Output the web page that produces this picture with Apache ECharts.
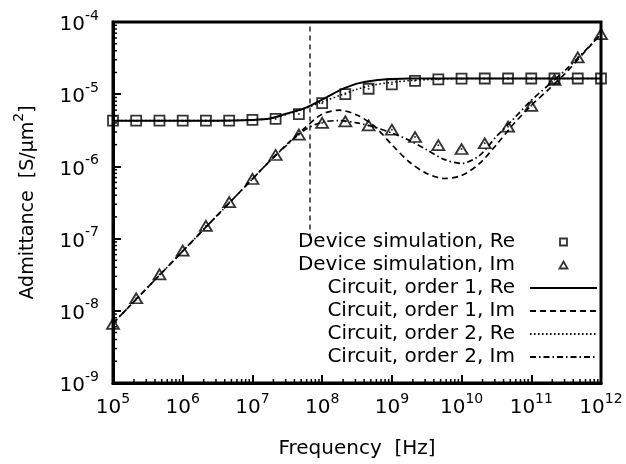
<!DOCTYPE html>
<html>
<head>
<meta charset="utf-8">
<script src="https://cdn.jsdelivr.net/npm/echarts@6/dist/echarts.min.js"></script>
<style>
  html, body { margin: 0; padding: 0; background: #fff; }
  #chart { width: 626px; height: 464px; }
</style>
</head>
<body>
<div id="chart"></div>
<script>
// device simulation points, 3 per decade
let simFreq = [1e5, 2.15e5, 4.64e5, 1e6, 2.15e6, 4.64e6, 1e7, 2.15e7, 4.64e7, 1e8, 2.15e8, 4.64e8,
  1e9, 2.15e9, 4.64e9, 1e10, 2.15e10, 4.64e10, 1e11, 2.15e11, 4.64e11, 1e12]
let simRe = [4.3e-6, 4.3e-6, 4.3e-6, 4.3e-6, 4.3e-6, 4.3e-6, 4.4e-6, 4.55e-6, 5.3e-6, 7.5e-6, 1.0e-5, 1.19e-5,
  1.37e-5, 1.53e-5, 1.6e-5, 1.64e-5, 1.65e-5, 1.65e-5, 1.65e-5, 1.65e-5, 1.65e-5, 1.65e-5]
let simIm = [6.6e-9, 1.49e-8, 3.2e-8, 6.8e-8, 1.5e-7, 3.2e-7, 6.7e-7, 1.44e-6, 2.75e-6, 4.0e-6, 4.2e-6, 3.7e-6,
  3.22e-6, 2.55e-6, 1.97e-6, 1.74e-6, 2.09e-6, 3.55e-6, 6.9e-6, 1.58e-5, 3.24e-5, 6.8e-5]

// equivalent circuit curves, 4 per decade in the transition region
let curveFreq = [1e5, 3.16e5, 1e6, 3.16e6, 1e7, 1.78e7, 3.16e7, 5.62e7, 1e8, 1.78e8, 3.16e8, 5.62e8,
  1e9, 1.78e9, 3.16e9, 5.62e9, 1e10, 1.78e10, 3.16e10, 5.62e10, 1e11, 1.78e11, 3.16e11, 5.62e11, 1e12]
let order1Re = [4.3e-6, 4.3e-6, 4.3e-6, 4.3e-6, 4.4e-6, 4.6e-6, 5.4e-6, 6.4e-6, 8.4e-6, 1.13e-5, 1.4e-5, 1.55e-5,
  1.62e-5, 1.65e-5, 1.65e-5, 1.65e-5, 1.65e-5, 1.65e-5, 1.65e-5, 1.65e-5, 1.65e-5, 1.65e-5, 1.65e-5, 1.65e-5, 1.65e-5]
let order1Im = [6.7e-9, 2.12e-8, 6.7e-8, 2.12e-7, 6.7e-7, 1.19e-6, 2.05e-6, 3.4e-6, 5.3e-6, 6.0e-6, 5.15e-6, 3.6e-6,
  2.0e-6, 1.15e-6, 8.0e-7, 6.8e-7, 7.5e-7, 1.08e-6, 2.0e-6, 3.9e-6, 7.0e-6, 1.17e-5, 2.0e-5, 3.7e-5, 6.8e-5]
let order2Re = [4.3e-6, 4.3e-6, 4.3e-6, 4.3e-6, 4.4e-6, 4.6e-6, 5.3e-6, 6.3e-6, 7.8e-6, 9.6e-6, 1.17e-5, 1.35e-5,
  1.46e-5, 1.54e-5, 1.59e-5, 1.63e-5, 1.65e-5, 1.65e-5, 1.65e-5, 1.65e-5, 1.65e-5, 1.65e-5, 1.65e-5, 1.65e-5, 1.65e-5]
let order2Im = [6.7e-9, 2.12e-8, 6.7e-8, 2.12e-7, 6.7e-7, 1.19e-6, 2.0e-6, 3.2e-6, 4.1e-6, 4.3e-6, 4.0e-6, 3.5e-6,
  2.9e-6, 2.3e-6, 1.7e-6, 1.25e-6, 1.1e-6, 1.4e-6, 2.6e-6, 4.6e-6, 8.2e-6, 1.35e-5, 2.2e-5, 3.8e-5, 6.8e-5]

// vertical marker line
let markerFreq = 6.7e7
let markerSpan = [1e-7, 1e-4]

let xRange = [1e5, 1e12]
let yRange = [1e-9, 1e-4]

let font = 'DejaVu Sans'

function zip (xs, ys) {
  return xs.map(function (x, i) { return [x, ys[i]] })
}

function minorTicks (lo, hi) {
  let out = []
  for (let e = lo; e < hi; e++) {
    for (let m = 2; m <= 9; m++) out.push(m * Math.pow(10, e))
  }
  return out
}

let tickData = minorTicks(5, 12).map(function (v) { return [v, yRange[0], 0] })
  .concat(minorTicks(-9, -4).map(function (v) { return [xRange[0], v, 1] }))

function powLabel (v) {
  return '{b|10}{s|' + Math.round(Math.log10(v)) + '}'
}

let labelRich = {
  b: { fontFamily: font, fontSize: 20, color: '#000', lineHeight: 26, verticalAlign: 'bottom' },
  s: { fontFamily: font, fontSize: 14, color: '#000', lineHeight: 12, verticalAlign: 'top' }
}

// legend: curves show only the line sample, markers sit small in the middle of the sample box
// (the leading moves stretch the path box to the full 67x8 legend slot so it is not distorted)
let noDot = { opacity: 0, borderWidth: 0 }
let openMark = { color: 'rgba(0,0,0,0)', borderColor: '#000', borderWidth: 1.8 }
let squareIcon = 'path://M0,0M67,8M30,0.5L37,0.5L37,7.5L30,7.5Z'
let triangleIcon = 'path://M0,0M67,8M33.5,0.5L37.5,7.5L29.5,7.5Z'

let chart = echarts.init(document.getElementById('chart'))

chart.setOption({
  animation: false,
  backgroundColor: '#fff',
  grid: {
    left: 113, right: 25, top: 22, bottom: 81,
    show: true, borderColor: '#000', borderWidth: 3,
    containLabel: false, outerBoundsMode: 'none'
  },
  legend: {
    orient: 'vertical',
    align: 'right',
    right: 23,
    top: 227,
    itemWidth: 67,
    itemHeight: 8,
    itemGap: 3,
    textStyle: { fontFamily: font, fontSize: 20, color: '#000', lineHeight: 20, padding: [0, 10, 0, 0] },
    data: [
      { name: 'Device simulation, Re', icon: squareIcon, itemStyle: openMark },
      { name: 'Device simulation, Im', icon: triangleIcon, itemStyle: openMark },
      { name: 'Circuit, order 1, Re', itemStyle: noDot },
      { name: 'Circuit, order 1, Im', itemStyle: noDot },
      { name: 'Circuit, order 2, Re', itemStyle: noDot },
      { name: 'Circuit, order 2, Im', itemStyle: noDot }
    ]
  },
  xAxis: {
    type: 'log',
    logBase: 10,
    min: xRange[0],
    max: xRange[1],
    splitNumber: 7,
    name: 'Frequency  [Hz]',
    nameLocation: 'middle',
    nameGap: 56,
    nameTextStyle: { fontFamily: font, fontSize: 20, color: '#000' },
    axisLine: { lineStyle: { color: '#000', width: 3 } },
    axisTick: { inside: true, length: 8, lineStyle: { color: '#000', width: 2 } },
    axisLabel: { margin: 9, formatter: powLabel, rich: labelRich },
    splitLine: { show: false }
  },
  yAxis: {
    type: 'log',
    logBase: 10,
    min: yRange[0],
    max: yRange[1],
    splitNumber: 5,
    name: '{n|Admittance  [S/μm}{s|2}{n|]}',
    nameLocation: 'middle',
    nameGap: 75,
    nameTextStyle: {
      rich: {
        n: { fontFamily: font, fontSize: 19, color: '#000', lineHeight: 26, verticalAlign: 'bottom' },
        s: { fontFamily: font, fontSize: 14, color: '#000', lineHeight: 12, verticalAlign: 'top' }
      }
    },
    axisLine: { lineStyle: { color: '#000', width: 3 } },
    axisTick: { inside: true, length: 8, lineStyle: { color: '#000', width: 2 } },
    axisLabel: { margin: 14, formatter: powLabel, rich: labelRich },
    splitLine: { show: false }
  },
  series: [
    {
      type: 'custom',
      silent: true,
      z: 5,
      encode: { x: 0, y: 1 },
      renderItem: function (params, api) {
        let p = api.coord([api.value(0), api.value(1)])
        let onY = api.value(2) === 1
        return {
          type: 'line',
          shape: onY
            ? { x1: p[0], y1: p[1], x2: p[0] + 4, y2: p[1] }
            : { x1: p[0], y1: p[1], x2: p[0], y2: p[1] - 4 },
          style: { stroke: '#000', lineWidth: 1.5 }
        }
      },
      data: tickData
    },
    {
      type: 'line',
      silent: true,
      symbol: 'none',
      lineStyle: { color: '#000', width: 1.3, type: [5, 4] },
      data: [[markerFreq, markerSpan[0]], [markerFreq, markerSpan[1]]]
    },
    {
      name: 'Circuit, order 1, Re',
      type: 'line',
      smooth: 0.3,
      symbol: 'none',
      color: '#000',
      lineStyle: { color: '#000', width: 2, type: 'solid' },
      data: zip(curveFreq, order1Re)
    },
    {
      name: 'Circuit, order 1, Im',
      type: 'line',
      smooth: 0.3,
      symbol: 'none',
      color: '#000',
      lineStyle: { color: '#000', width: 1.7, type: [6, 4] },
      data: zip(curveFreq, order1Im)
    },
    {
      name: 'Circuit, order 2, Re',
      type: 'line',
      smooth: 0.3,
      symbol: 'none',
      color: '#000',
      lineStyle: { color: '#000', width: 1.6, type: [1.5, 2.5] },
      data: zip(curveFreq, order2Re)
    },
    {
      name: 'Circuit, order 2, Im',
      type: 'line',
      smooth: 0.3,
      symbol: 'none',
      color: '#000',
      lineStyle: { color: '#000', width: 1.7, type: [6, 3, 1.5, 3] },
      data: zip(curveFreq, order2Im)
    },
    {
      name: 'Device simulation, Re',
      type: 'scatter',
      symbol: 'rect',
      symbolSize: 10,
      itemStyle: openMark,
      data: zip(simFreq, simRe)
    },
    {
      name: 'Device simulation, Im',
      type: 'scatter',
      symbol: 'triangle',
      symbolSize: [12, 10],
      itemStyle: openMark,
      data: zip(simFreq, simIm)
    },
    {
      type: 'scatter',
      silent: true,
      symbol: 'circle',
      symbolSize: 2,
      itemStyle: { color: '#000' },
      data: zip(simFreq, simRe).concat(zip(simFreq, simIm))
    }
  ]
})
</script>
</body>
</html>
